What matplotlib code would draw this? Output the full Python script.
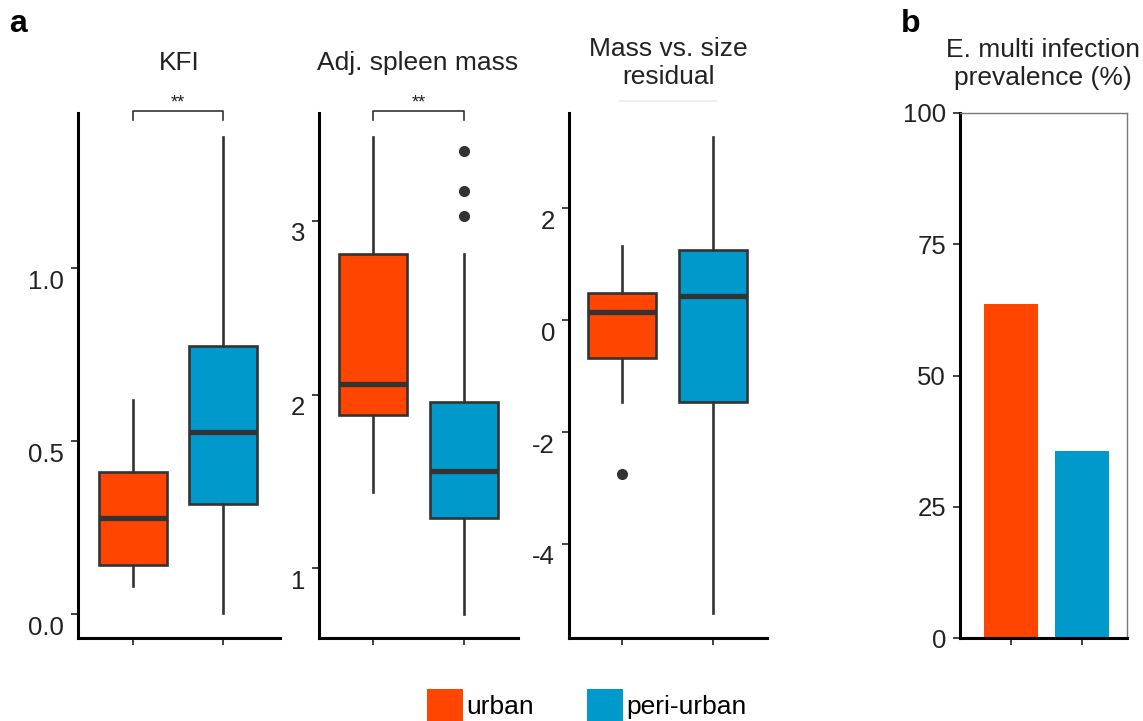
import numpy as np
import matplotlib.pyplot as plt
from matplotlib.patches import Patch
from matplotlib.transforms import blended_transform_factory, ScaledTranslation

plt.rcParams['font.family'] = ['Liberation Sans', 'DejaVu Sans']

groups = ['urban', 'peri-urban']
colors = ['#FF4500', '#0099CC']
dark = '#333333'

# KFI box stats (urban, peri-urban)
kfi_lo = [0.081, 0.004]
kfi_q1 = [0.142, 0.319]
kfi_med = [0.277, 0.525]
kfi_q3 = [0.41, 0.774]
kfi_hi = [0.618, 1.378]
kfi_out = [[], []]

# adjusted spleen mass
spl_lo = [1.44, 0.74]
spl_q1 = [1.88, 1.29]
spl_med = [2.06, 1.56]
spl_q3 = [2.81, 1.96]
spl_hi = [3.48, 2.81]
spl_out = [[], [3.40, 3.17, 3.03]]

# mass vs size residual
res_lo = [-1.47, -5.23]
res_q1 = [-0.68, -1.47]
res_med = [0.14, 0.43]
res_q3 = [0.49, 1.26]
res_hi = [1.32, 3.27]
res_out = [[-2.75], []]

# E. multi prevalence (%)
prevalence = [63.6, 35.7]

W, H = 1143, 721
fig = plt.figure(figsize=(W / 100, H / 100), dpi=100)


def rect(x0, x1, y0=113, y1=638):
    return [x0 / W, 1 - y1 / H, (x1 - x0) / W, (y1 - y0) / H]


def style(ax, xlim, ylim, yticks, ylabels, drop=0):
    ax.set_xlim(*xlim)
    ax.set_ylim(*ylim)
    ax.set_xticks([0, 1])
    ax.set_xticklabels(['', ''])
    ax.set_yticks(yticks)
    ax.set_yticklabels(ylabels)
    for s in ['top', 'right']:
        ax.spines[s].set_visible(False)
    for s in ['left', 'bottom']:
        ax.spines[s].set_linewidth(2.2)
        ax.spines[s].set_color('black')
    ax.tick_params(length=5, width=1.3, color=dark, labelsize=18.5,
                   labelcolor='#222222', pad=5)
    # labels sit a little below their ticks on the box panels
    if drop:
        shift = ScaledTranslation(0, -drop / 100, fig.dpi_scale_trans)
        for lab in ax.get_yticklabels():
            lab.set_transform(lab.get_transform() + shift)


def boxes(ax, lo, q1, med, q3, hi, out):
    stats = []
    for i in range(2):
        stats.append(dict(whislo=lo[i], q1=q1[i], med=med[i], q3=q3[i],
                          whishi=hi[i], fliers=out[i]))
    b = ax.bxp(stats, positions=[0, 1], widths=0.75, patch_artist=True,
               showcaps=False,
               boxprops=dict(edgecolor=dark, linewidth=1.9),
               medianprops=dict(color=dark, linewidth=3.8, solid_capstyle='butt'),
               whiskerprops=dict(color=dark, linewidth=1.9),
               flierprops=dict(marker='o', markerfacecolor=dark,
                               markeredgecolor=dark, markersize=7))
    for patch, c in zip(b['boxes'], colors):
        patch.set_facecolor(c)


def bracket(ax):
    tr = blended_transform_factory(ax.transData, ax.transAxes)
    ax.plot([0, 0, 1, 1], [0.987, 1.004, 1.004, 0.987], color=dark,
            lw=1.2, transform=tr, clip_on=False)
    ax.text(0.5, 1.003, '**', transform=tr, ha='center', va='bottom',
            fontsize=13, color='#222222')


ax1 = fig.add_axes(rect(78, 280))
boxes(ax1, kfi_lo, kfi_q1, kfi_med, kfi_q3, kfi_hi, kfi_out)
style(ax1, (-0.611, 1.633), (-0.069, 1.448), [0, 0.5, 1.0],
      ['0.0', '0.5', '1.0'], drop=11)
bracket(ax1)

ax2 = fig.add_axes(rect(319, 518))
boxes(ax2, spl_lo, spl_q1, spl_med, spl_q3, spl_hi, spl_out)
style(ax2, (-0.593, 1.593), (0.60, 3.62), [1, 2, 3], ['1', '2', '3'], drop=11)
bracket(ax2)

ax3 = fig.add_axes(rect(569, 767))
boxes(ax3, res_lo, res_q1, res_med, res_q3, res_hi, res_out)
style(ax3, (-0.582, 1.593), (-5.68, 3.70), [-4, -2, 0, 2],
      ['-4', '-2', '0', '2'], drop=11)

ax4 = fig.add_axes(rect(960, 1127))
ax4.bar([0, 1], prevalence, width=0.76, color=colors)
style(ax4, (-0.718, 1.634), (0, 100), [0, 25, 50, 75, 100],
      ['0', '25', '50', '75', '100'])
for s in ['top', 'right']:
    ax4.spines[s].set_visible(True)
    ax4.spines[s].set_linewidth(1.0)
    ax4.spines[s].set_color('#777777')

# titles
tkw = dict(ha='center', va='baseline', fontsize=19, color='#222222')
fig.text(179 / W, 1 - 70 / H, 'KFI', **tkw)
fig.text(418 / W, 1 - 70 / H, 'Adj. spleen mass', **tkw)
fig.text(668 / W, 1 - 56 / H, 'Mass vs. size', **tkw)
fig.text(668 / W, 1 - 84 / H, 'residual', **tkw)
fig.text(1043 / W, 1 - 57 / H, 'E. multi infection', **tkw)
fig.text(1043 / W, 1 - 85 / H, 'prevalence (%)', **tkw)
fig.add_artist(plt.Line2D([620 / W, 716 / W], [1 - 101 / H, 1 - 101 / H],
                          color='#eeeeee', lw=1.5))

# panel letters
fig.text(9 / W, 1 - 32 / H, 'a', fontsize=23, fontweight='bold', va='baseline')
fig.text(901 / W, 1 - 32 / H, 'b', fontsize=23, fontweight='bold', va='baseline')

handles = [Patch(facecolor=c, edgecolor='none') for c in colors]
fig.legend(handles, groups, loc='upper center', bbox_to_anchor=(587 / W, 1 - 686 / H),
           ncol=2, frameon=False, fontsize=19, handlelength=1.35, handleheight=1.6,
           handletextpad=0.15, columnspacing=2.0, borderpad=0.1, borderaxespad=0)

fig.savefig('out.png', dpi=100)
